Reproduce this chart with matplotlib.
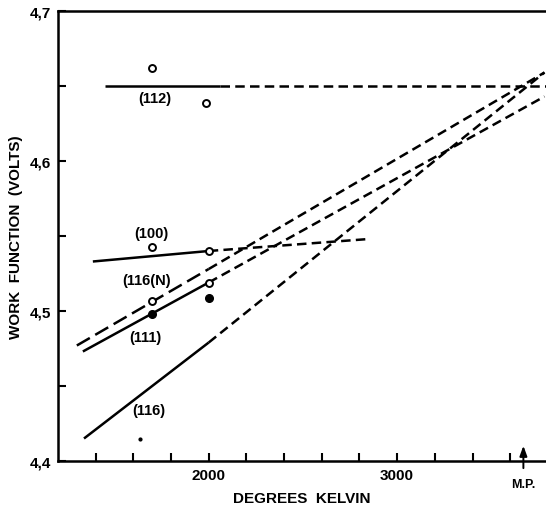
"""
Work function vs temperature for tungsten crystal faces, with extrapolation
to the melting point. Values read off the reference figure.
"""
import matplotlib
matplotlib.use("Agg")  # headless
import matplotlib.pyplot as plt
from matplotlib.ticker import FixedLocator

# ----- data (K, volts) -----
# solid = fit over measured range, dashed = extrapolation
t_112_solid = [1450, 2060]
phi_112_solid = [4.650, 4.650]
t_112_dash = [2060, 3790]
phi_112_dash = [4.650, 4.650]

t_100_solid = [1385, 2000]
phi_100_solid = [4.533, 4.540]
t_100_dash = [2000, 2850]
phi_100_dash = [4.540, 4.548]

t_116n_long = [1300, 2000]
phi_116n_long = [4.477, 4.528]
t_116n_dash = [2000, 3782]
phi_116n_dash = [4.528, 4.659]

t_111_solid = [1332, 2000]
phi_111_solid = [4.473, 4.519]
t_111_dash = [2000, 3782]
phi_111_dash = [4.519, 4.643]

t_116_solid = [1338, 2000]
phi_116_solid = [4.415, 4.479]
t_116_dash = [2000, 3782]
phi_116_dash = [4.479, 4.659]

# measured points
t_open = [1700, 1985, 1700, 2000, 1700, 2000]
phi_open = [4.662, 4.639, 4.543, 4.540, 4.507, 4.519]
t_filled = [1700, 2000]
phi_filled = [4.498, 4.509]
t_speck = [1634]
phi_speck = [4.415]

face_labels = ["(112)", "(100)", "(116(N)", "(111)", "(116)"]
label_t = [1713, 1697, 1671, 1666, 1681]
label_phi = [4.642, 4.552, 4.521, 4.483, 4.434]

x_ticks = [1400, 1600, 1800, 2000, 2200, 2400, 2600, 2800, 3000, 3200, 3400, 3600]
x_ticklabels = ["", "", "", "2000", "", "", "", "", "3000", "", "", ""]
y_ticks = [4.4, 4.5, 4.6, 4.7]
y_ticklabels = ["4,4", "4,5", "4,6", "4,7"]
y_minor = [4.45, 4.55, 4.65]

t_mp = 3670

FONT = "Liberation Sans"
LW = 1.8
DASH = (3.8, 2.1)
LONG_DASH = (6, 2.5)

fig = plt.figure(figsize=(5.46, 5.06), dpi=100)
ax = fig.add_axes([58 / 546, 44 / 506, 1 - 58 / 546, 450 / 506])

# fits
for t, p in [(t_112_solid, phi_112_solid), (t_100_solid, phi_100_solid),
             (t_111_solid, phi_111_solid), (t_116_solid, phi_116_solid)]:
    ax.plot(t, p, color="black", lw=LW, solid_capstyle="butt")
for t, p in [(t_112_dash, phi_112_dash), (t_100_dash, phi_100_dash),
             (t_116n_dash, phi_116n_dash), (t_111_dash, phi_111_dash),
             (t_116_dash, phi_116_dash)]:
    ax.plot(t, p, color="black", lw=LW, dashes=DASH)
ax.plot(t_116n_long, phi_116n_long, color="black", lw=LW, dashes=LONG_DASH)

# points
ax.plot(t_open, phi_open, "o", ms=5, mfc="white", mec="black", mew=1.4, zorder=5)
ax.plot(t_filled, phi_filled, "o", ms=5.5, color="black", zorder=5)
ax.plot(t_speck, phi_speck, "o", ms=2, color="black", zorder=5)

for lab, t, p in zip(face_labels, label_t, label_phi):
    ax.text(t, p, lab, ha="center", va="center", fontsize=10.5,
            fontweight="bold", family=FONT)

ax.set_xlim(1200, 3790)
ax.set_ylim(4.4, 4.7)

ax.xaxis.set_major_locator(FixedLocator(x_ticks))
ax.set_xticklabels(x_ticklabels)
ax.yaxis.set_major_locator(FixedLocator(y_ticks))
ax.set_yticklabels(y_ticklabels)
ax.yaxis.set_minor_locator(FixedLocator(y_minor))

ax.tick_params(which="both", direction="in", length=6, width=1.5,
               labelsize=11, pad=5)
for lab in ax.get_xticklabels() + ax.get_yticklabels():
    lab.set_fontweight("bold")
    lab.set_family(FONT)

for side in ["left", "bottom", "top"]:
    ax.spines[side].set_linewidth(LW)
ax.spines["right"].set_visible(False)

ax.set_xlabel("DEGREES  KELVIN", fontsize=11, fontweight="bold", family=FONT)
ax.set_ylabel("WORK  FUNCTION  (VOLTS)", fontsize=11, fontweight="bold", family=FONT)
ax.xaxis.set_label_coords(0.5, -0.066)
ax.yaxis.set_label_coords(-0.072, 0.5)

# melting point marker
ax.annotate("", xy=(t_mp, 0.04), xytext=(t_mp, -0.022),
            xycoords=("data", "axes fraction"), textcoords=("data", "axes fraction"),
            arrowprops=dict(arrowstyle="-|>,head_length=0.6,head_width=0.22",
                            color="black", lw=1.4), annotation_clip=False)
ax.text(t_mp, -0.052, "M.P.", transform=ax.get_xaxis_transform(), ha="center",
        va="center", fontsize=9, fontweight="bold", family=FONT, clip_on=False)

fig.savefig("out.png", dpi=100)
